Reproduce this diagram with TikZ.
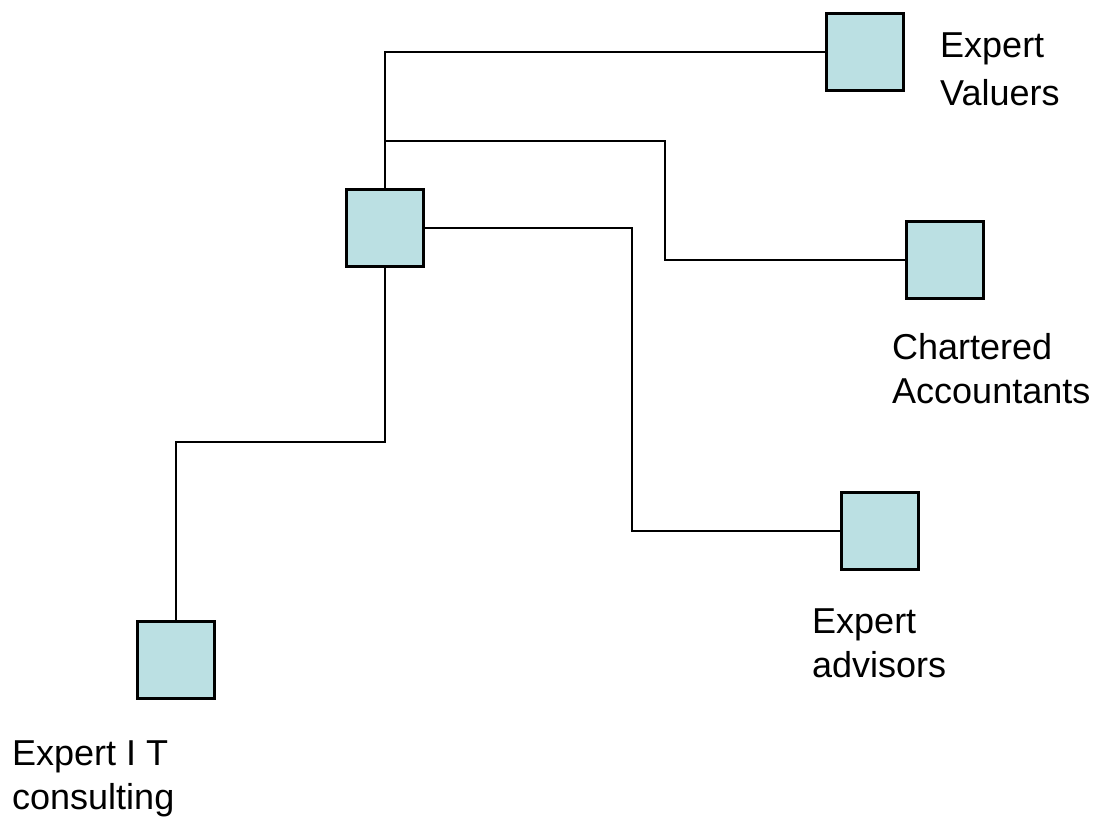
\documentclass[tikz,border=0pt]{standalone}
\usepackage{fontspec}
\setmainfont{Liberation Sans}
\definecolor{boxfill}{RGB}{187,224,227}
\begin{document}
\begin{tikzpicture}[x=1pt,y=-1pt,
  sq/.style={draw=black,line width=3pt,fill=boxfill,minimum size=77pt,inner sep=0pt},
  conn/.style={draw=black,line width=2pt},
  lbl/.style={anchor=base west,inner sep=0pt,align=left,font=\fontsize{36}{#1}\selectfont},
  lbl/.default=44]
\useasboundingbox (0,0) rectangle (1101,830);
\node[sq] (c) at (385,228) {};
\node[sq] (val) at (865,52) {};
\node[sq] (ca) at (945,260) {};
\node[sq] (adv) at (880,531) {};
\node[sq] (it) at (176,660) {};
\coordinate (j) at (385,141);
\draw[conn] (c.north) |- (val.west);
\draw[conn] (j) -- ++(280,0) |- (ca.west);
\draw[conn] (c.east) -- ++(207,0) |- (adv.west);
\draw[conn] (c.south) -- ++(0,174) -| (it.north);
\node[lbl=48] (tval) at (940,105) {Expert\\Valuers};
\node[lbl=44] (tca) at (892,403) {Chartered\\Accountants};
\node[lbl=44] (tadv) at (812,677) {Expert\\advisors};
\node[lbl=44] (tit) at (12,809) {Expert I T\\consulting};
\end{tikzpicture}
\end{document}
